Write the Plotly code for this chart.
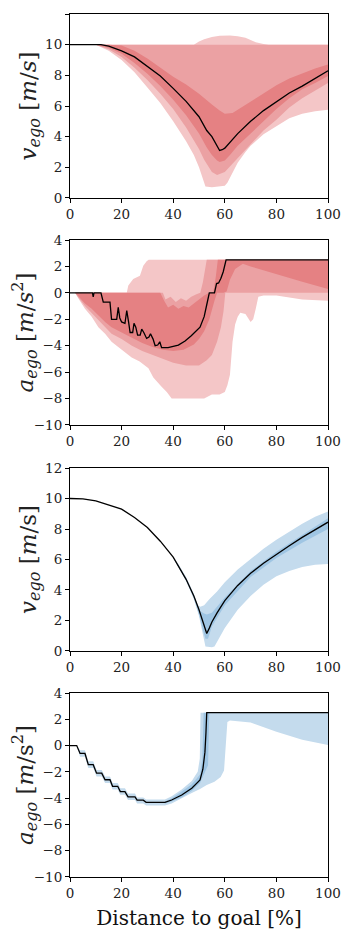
import plotly.graph_objects as go
from plotly.subplots import make_subplots

# ---------- panel 1 : v_ego (red) ----------
v1_x = [0, 5, 10, 12, 15, 20, 25, 30, 35, 40, 45, 50, 53, 55, 57, 58, 59, 60, 65, 70, 75, 80, 85, 90, 95, 100]
v1_med = [10, 10, 10, 10, 9.9, 9.6, 9.2, 8.6, 7.95, 7.15, 6.3, 5.3, 4.4, 4.0, 3.4, 3.1, 3.15, 3.25, 4.2, 5.0, 5.7, 6.3, 6.85, 7.3, 7.8, 8.3]

v1_max_x = [0, 48, 50, 52, 55, 58, 62, 65, 68, 70, 72, 75, 77, 100]
v1_max = [10, 10, 10.2, 10.35, 10.5, 10.58, 10.6, 10.55, 10.45, 10.3, 10.15, 10.05, 10, 10]
v1_min_x = [0, 10, 15, 20, 25, 30, 35, 40, 45, 48, 50, 51.5, 52.5, 55, 58, 60, 61, 62, 65, 68, 70, 75, 80, 85, 90, 95, 100]
v1_min = [10, 10, 9.6, 9.0, 8.2, 7.2, 6.2, 5.0, 3.7, 2.8, 2.0, 1.3, 0.75, 0.7, 0.75, 0.8, 1.0, 1.3, 2.3, 3.0, 3.4, 4.15, 4.7, 5.2, 5.5, 5.65, 5.75]

v1_mid_hi_x = [0, 100]
v1_mid_hi = [10, 10]
v1_mid_lo_x = [0, 10, 15, 20, 25, 30, 35, 40, 45, 50, 52, 55, 57, 60, 62, 65, 70, 75, 80, 85, 90, 95, 100]
v1_mid_lo = [10, 10, 9.7, 9.2, 8.5, 7.7, 6.8, 5.8, 4.6, 3.2, 2.5, 1.7, 1.5, 1.7, 2.0, 2.6, 3.5, 4.4, 5.1, 5.9, 6.5, 7.0, 7.5]

v1_q_hi_x = [0, 10, 15, 20, 25, 30, 35, 40, 45, 50, 55, 58, 60, 63, 65, 70, 75, 80, 85, 90, 95, 100]
v1_q_hi = [10, 10, 10, 9.95, 9.6, 9.1, 8.5, 7.9, 7.4, 6.8, 6.1, 5.7, 5.5, 5.55, 5.75, 6.3, 6.85, 7.35, 7.8, 8.15, 8.45, 8.7]
v1_q_lo_x = [0, 10, 15, 20, 25, 30, 35, 40, 45, 50, 53, 55, 57, 58, 60, 62, 65, 68, 70, 75, 80, 85, 90, 95, 100]
v1_q_lo = [10, 10, 9.8, 9.4, 8.8, 8.1, 7.3, 6.4, 5.4, 4.2, 3.3, 2.8, 2.45, 2.35, 2.45, 2.8, 3.4, 3.9, 4.2, 5.0, 5.8, 6.5, 7.1, 7.5, 7.95]

# ---------- panel 2 : a_ego (red) ----------
a1_x = [0, 8.7, 9.0, 9.3, 12.0, 12.9, 15.5, 16.1, 18.1, 18.7, 19.3, 20.0, 21.3, 22.0, 22.7, 23.3, 24.3, 24.8,
        25.5, 26.2, 27.2, 27.8, 28.6, 29.7, 30.6, 31.2, 32.2, 33.0, 34.0, 34.8, 35.5, 38.0, 40.0, 42.0, 44.6,
        47.0, 50.4, 52.0, 53.0, 54.0, 56.0, 56.8, 57.6, 58.5, 59.4, 60.5, 100]
a1_med = [0, 0, -0.3, 0, 0, -0.7, -0.7, -2.0, -2.0, -1.1, -1.9, -2.2, -2.3, -1.35, -2.2, -3.0, -3.0, -2.3,
          -2.6, -3.2, -3.2, -2.75, -3.0, -3.45, -3.35, -3.1, -3.5, -4.0, -3.95, -3.7, -4.15, -4.15, -4.05, -3.95, -3.65,
          -3.25, -2.6, -1.8, -0.9, 0, 0, 0.7, 0.75, 1.1, 1.6, 2.5, 2.5]

a1_max_x = [0, 22, 22.6, 24.5, 27.1, 28.4, 29.7, 30.5, 100]
a1_max = [0, 0, 0.55, 1.05, 1.3, 2.05, 2.4, 2.5, 2.5]
a1_min_x = [0, 2, 3.2, 5.8, 8.4, 11, 13.6, 16.1, 20, 23.9, 27, 30.4, 32.3, 35.5, 37.5, 39.4, 52, 55, 58, 60,
            61, 62, 63, 64, 65, 66, 68, 70, 71, 72, 73, 75, 80, 90, 100]
a1_min = [0, 0, -0.4, -1.2, -1.8, -2.6, -3.1, -3.7, -4.3, -4.9, -5.2, -5.7, -6.4, -7.1, -7.5, -8.0, -8.0, -7.7, -7.7, -7.5,
          -7.0, -6.2, -3.7, -2.4, -1.8, -1.5, -1.6, -2.2, -2.0, -1.2, -0.3, -0.2, -0.2, -0.5, -0.6]

a1_mid_hi_x = [0, 36, 37, 39, 41, 43, 45, 47, 49, 50.5, 51.5, 52.3, 53, 100]
a1_mid_hi = [0, 0, -0.5, -0.3, -0.7, -0.4, -0.6, -0.3, -0.1, 0, 0.8, 1.8, 2.5, 2.5]
a1_mid_lo_x = [0, 2, 3, 5.8, 8.4, 11, 13.6, 16.1, 20, 24, 28, 32, 36, 40, 45, 50, 53, 55, 57, 58.5, 59.5, 60.2, 100]
a1_mid_lo = [0, 0, -0.3, -1.0, -1.5, -2.1, -2.6, -3.1, -3.5, -4.0, -4.4, -4.7, -5.0, -5.3, -5.5, -5.5, -5.1, -4.7, -3.7, -2.6, -1.4, 0, 0]

a1_q_hi_x = [0, 35, 36.5, 38, 40, 42, 44, 46, 48, 50, 52, 54, 55.5, 56.5, 57.3, 100]
a1_q_hi = [0, 0, -0.6, -1.1, -0.9, -1.2, -1.0, -1.1, -0.8, -0.5, -0.2, 0, 0, 1.2, 2.5, 2.5]
a1_q_lo_x = [0, 2, 3, 5.8, 8.4, 11, 13.6, 16.1, 20, 24, 28, 32, 36, 40, 44, 48, 50, 52, 54, 55, 56, 57, 59.5,
             60.7, 62, 64, 67, 70, 80, 90, 100]
a1_q_lo = [0, 0, -0.2, -0.8, -1.2, -1.7, -2.2, -2.6, -3.0, -3.4, -3.8, -4.1, -4.3, -4.4, -4.3, -3.9, -3.5, -2.9, -2.0, -1.3, -0.6, 0, 0,
           0.1, 1.0, 1.8, 2.2, 2.0, 1.4, 0.85, 0.3]

# ---------- panel 3 : v_ego (blue) ----------
v2_x = [0, 5, 10, 15, 20, 25, 30, 35, 40, 45, 48, 50, 52, 53, 54, 55, 57, 60, 65, 70, 75, 80, 85, 90, 95, 100]
v2_med = [10, 9.97, 9.85, 9.6, 9.3, 8.75, 8.1, 7.2, 6.15, 4.7, 3.6, 2.7, 1.6, 1.15, 1.5, 1.9, 2.5, 3.3, 4.3, 5.1, 5.75, 6.35, 6.9, 7.45, 7.95, 8.45]

v2_max_x = [40, 42, 45, 48, 49.5, 50.5, 52, 54, 57, 60, 65, 70, 75, 80, 85, 90, 95, 100]
v2_max = [6.15, 5.7, 4.85, 3.75, 3.0, 2.9, 3.0, 3.4, 3.9, 4.5, 5.35, 6.05, 6.7, 7.3, 7.85, 8.35, 8.8, 9.15]
v2_min_x = [40, 42, 45, 48, 50, 51.5, 52.5, 55, 56, 57, 60, 65, 70, 75, 80, 85, 90, 95, 100]
v2_min = [6.15, 5.55, 4.6, 3.4, 2.3, 1.1, 0.3, 0.25, 0.3, 0.6, 1.5, 2.7, 3.6, 4.35, 4.9, 5.25, 5.5, 5.65, 5.7]

v2_q_hi_x = [40, 45, 48, 49.5, 50.5, 52, 53, 55, 60, 70, 80, 90, 100]
v2_q_hi = [6.15, 4.75, 3.65, 3.0, 2.6, 2.45, 2.4, 2.5, 3.5, 5.25, 6.5, 7.6, 8.7]
v2_q_lo_x = [40, 45, 48, 50, 51.5, 52.5, 53.5, 55, 60, 70, 80, 90, 100]
v2_q_lo = [6.1, 4.6, 3.5, 2.4, 1.4, 0.8, 0.8, 1.6, 3.0, 4.85, 6.1, 7.1, 8.0]

# ---------- panel 4 : a_ego (blue) ----------
a2_x = [0, 2.6, 3.9, 5.8, 7.1, 9.0, 10.3, 12.3, 13.6, 15.5, 16.5, 18.5, 19.5, 21.3, 22.5, 25.2, 26, 28.4, 29.5,
        36.8, 39.4, 43.3, 47.2, 50.4, 51.5, 52.3, 52.7, 53, 100]
a2_med = [0, 0, -0.6, -0.6, -1.45, -1.45, -2.1, -2.1, -2.6, -2.6, -3.1, -3.1, -3.5, -3.5, -3.9, -3.9, -4.15, -4.15, -4.32,
          -4.32, -4.14, -3.76, -3.25, -2.62, -1.8, -0.5, 1.0, 2.5, 2.5]

a2_max_x = [0, 2.6, 3.9, 5.8, 7.1, 9.0, 10.3, 12.3, 13.6, 15.5, 16.5, 18.5, 19.5, 21.3, 22.5, 25.2, 26, 28.4, 29.5,
            36.8, 39.4, 43.3, 47.2, 49.5, 50.3, 50.6, 100]
a2_max = [0, 0, -0.35, -0.35, -1.2, -1.2, -1.85, -1.85, -2.35, -2.35, -2.85, -2.85, -3.25, -3.25, -3.65, -3.65, -3.95, -3.95, -4.1,
          -4.1, -3.85, -3.35, -2.7, -2.0, -1.0, 2.5, 2.5]
a2_min_x = [0, 2.6, 3.9, 5.8, 7.1, 9.0, 10.3, 12.3, 13.6, 15.5, 16.5, 18.5, 19.5, 21.3, 22.5, 25.2, 26, 28.4, 29.5,
            36.8, 39.4, 43.3, 47.2, 50.4, 53, 56, 58.4, 59.7, 60.4, 61, 62, 70, 80, 90, 100]
a2_min = [0, 0, -0.85, -0.85, -1.7, -1.7, -2.35, -2.35, -2.85, -2.85, -3.35, -3.35, -3.75, -3.75, -4.15, -4.15, -4.4, -4.4, -4.55,
          -4.55, -4.4, -4.0, -3.6, -3.3, -3.0, -2.75, -2.4, -1.9, 0, 1.8, 1.9, 1.75, 1.05, 0.45, 0.05]

a2_q_hi_x = [36.8, 39.4, 43.3, 47.2, 50.4, 51.3, 51.8, 100]
a2_q_hi = [-4.25, -4.0, -3.5, -2.95, -2.2, -1.0, 2.5, 2.5]
a2_q_lo_x = [36.8, 39.4, 43.3, 47.2, 50.4, 52, 53.5, 54, 100]
a2_q_lo = [-4.4, -4.25, -3.95, -3.45, -2.85, -2.2, -1.5, 2.5, 2.5]

x_ticks = [0, 20, 40, 60, 80, 100]

RED = ["#f4c6c7", "#eba1a3", "#e58183"]
BLUE = ["#c4dbed", "#9fc5e3"]
FONT = "DejaVu Serif"


def band(fig, row, xl, yl, xh, yh, color):
    fig.add_trace(go.Scatter(
        x=list(xh) + list(xl)[::-1], y=list(yh) + list(yl)[::-1],
        fill="toself", fillcolor=color, mode="lines", line=dict(width=0),
        hoverinfo="skip", showlegend=False), row=row, col=1)


def median(fig, row, x, y):
    fig.add_trace(go.Scatter(x=x, y=y, mode="lines", line=dict(color="black", width=1.3),
                             showlegend=False), row=row, col=1)


fig = make_subplots(rows=4, cols=1)

band(fig, 1, v1_min_x, v1_min, v1_max_x, v1_max, RED[0])
band(fig, 1, v1_mid_lo_x, v1_mid_lo, v1_mid_hi_x, v1_mid_hi, RED[1])
band(fig, 1, v1_q_lo_x, v1_q_lo, v1_q_hi_x, v1_q_hi, RED[2])
median(fig, 1, v1_x, v1_med)

band(fig, 2, a1_min_x, a1_min, a1_max_x, a1_max, RED[0])
band(fig, 2, a1_mid_lo_x, a1_mid_lo, a1_mid_hi_x, a1_mid_hi, RED[1])
band(fig, 2, a1_q_lo_x, a1_q_lo, a1_q_hi_x, a1_q_hi, RED[2])
median(fig, 2, a1_x, a1_med)

band(fig, 3, v2_min_x, v2_min, v2_max_x, v2_max, BLUE[0])
band(fig, 3, v2_q_lo_x, v2_q_lo, v2_q_hi_x, v2_q_hi, BLUE[1])
median(fig, 3, v2_x, v2_med)

band(fig, 4, a2_min_x, a2_min, a2_max_x, a2_max, BLUE[0])
band(fig, 4, a2_q_lo_x, a2_q_lo, a2_q_hi_x, a2_q_hi, BLUE[1])
median(fig, 4, a2_x, a2_med)

domains = [[0.7868, 1.0], [0.5238, 0.7381], [0.2619, 0.4739], [0.0, 0.2132]]
titles = [
    "<i>v</i><sub><i>ego</i></sub> [<i>m</i>/<i>s</i>]",
    "<i>a</i><sub><i>ego</i></sub> [<i>m</i>/<i>s</i><sup>2</sup>]",
    "<i>v</i><sub><i>ego</i></sub> [<i>m</i>/s]",
    "<i>a</i><sub><i>ego</i></sub> [<i>m</i>/s<sup>2</sup>]",
]
standoffs = [2, 2, 2, 2]
ranges = [[0, 12], [-10, 4], [0, 12], [-10, 4]]

axis_style = dict(showline=True, linecolor="black", linewidth=1, mirror=True,
                  ticks="outside", ticklen=4, tickwidth=1, tickcolor="black",
                  showgrid=False, zeroline=False, automargin=False,
                  tickfont=dict(family=FONT, size=13.5, color="#222"))

for i in range(4):
    fig.update_yaxes(domain=domains[i], range=ranges[i], dtick=2,
                     title=dict(text=titles[i], font=dict(family=FONT, size=23, color="#222"),
                                standoff=standoffs[i]),
                     row=i + 1, col=1, **axis_style)
    fig.update_xaxes(range=[0, 100], tickvals=x_ticks, row=i + 1, col=1, **axis_style)

fig.update_xaxes(title=dict(text="Distance to goal [%]", font=dict(family=FONT, size=20, color="#111"), standoff=10),
                 row=4, col=1)

# page body adds an 8px offset, so the margins compensate for it
fig.update_layout(
    width=355, height=942,
    margin=dict(l=62, r=35, t=6, b=73, autoexpand=False),
    paper_bgcolor="white", plot_bgcolor="white",
    showlegend=False,
)

fig.write_html("out.html")
